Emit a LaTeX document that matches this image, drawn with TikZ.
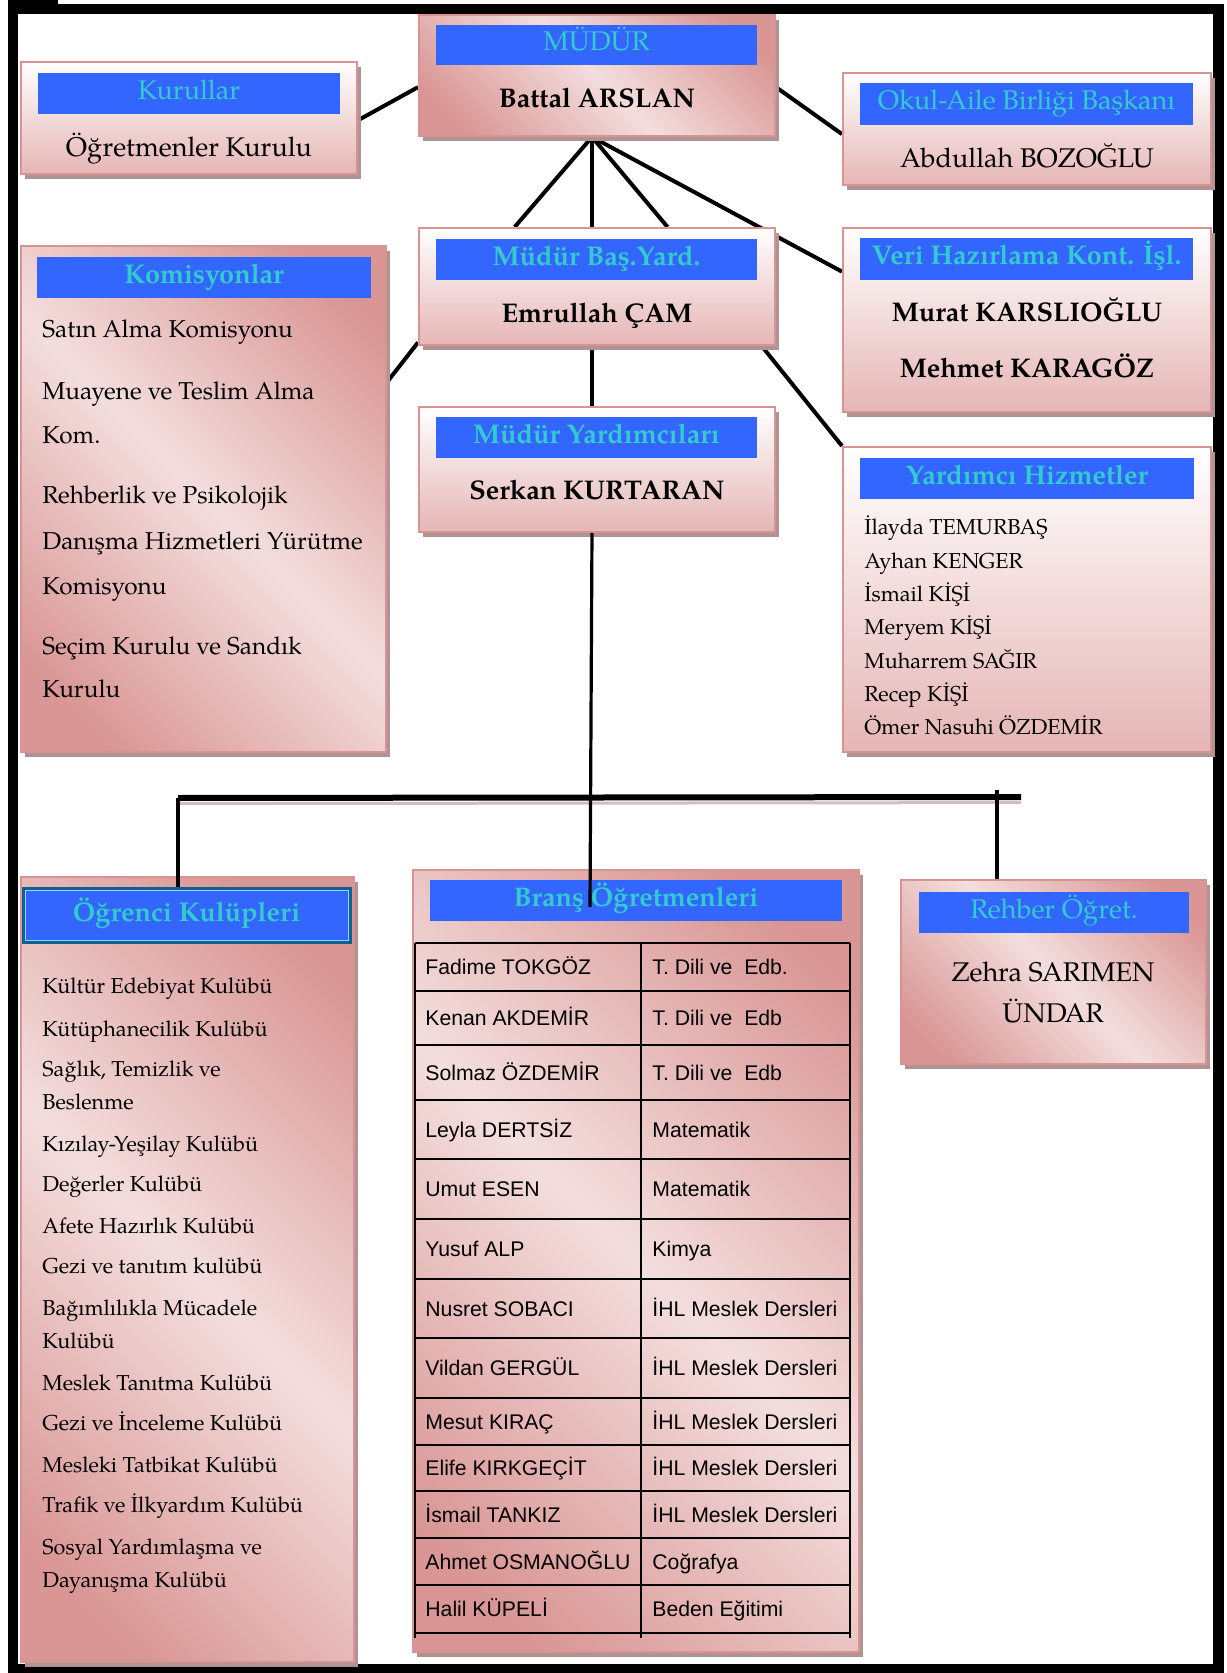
\documentclass[tikz,border=0pt]{standalone}
\usepackage{fontspec}
\setmainfont{TeX Gyre Pagella}
\newfontfamily\tabfont{Liberation Sans}
\usetikzlibrary{calc,shadows}
\definecolor{pkD}{RGB}{217,150,148}
\definecolor{pkL}{RGB}{243,222,221}
\definecolor{pkM}{RGB}{229,182,181}
\definecolor{bordc}{RGB}{216,148,146}
\definecolor{shad}{RGB}{176,148,148}
\definecolor{barblue}{RGB}{51,102,255}
\definecolor{ttl}{RGB}{51,204,204}
\definecolor{ogbord}{RGB}{16,96,150}
\pgfdeclareverticalshading{mirrorsh}{100bp}{color(0bp)=(pkD); color(22bp)=(pkD); color(50bp)=(pkL); color(78bp)=(pkD); color(100bp)=(pkD)}
\pgfdeclarelayer{bg}
\pgfsetlayers{bg,main}
\newcommand\FMain{\fontsize{13.5}{16}\selectfont}
\newcommand\FKom{\fontsize{12.2}{14}\selectfont}
\newcommand\FSm{\fontsize{10.8}{13}\selectfont}
\newcommand\FTab{\tabfont\fontsize{10.6}{12}\selectfont}
\begin{document}
\begin{tikzpicture}[x=0.5pt,y=-0.5pt,
  boxbase/.style={rectangle, draw=bordc, line width=1pt, inner sep=0pt,
    drop shadow={shadow xshift=2pt,shadow yshift=-2.5pt,fill=shad,opacity=1}},
  vbox/.style={boxbase, top color=white, bottom color=pkM},
  mbox/.style={boxbase, shading=mirrorsh, shading angle=-45},
  tbar/.style={rectangle, fill=barblue, inner sep=0pt, text=ttl, font=\FMain,
    text height=0.75em, text depth=0.15em},
  tbarb/.style={tbar, font=\FMain\bfseries},
  conn/.style={line width=2pt},
  dropln/.style={line width=1.6pt},
  nm/.style={anchor=base, font=\FMain},
  nmb/.style={anchor=base, font=\FMain\bfseries},
  kom/.style={anchor=base west, inner sep=0pt, font=\FKom},
  sm/.style={anchor=base west, inner sep=0pt, font=\FSm},
  tabtxt/.style={anchor=base west, inner sep=0pt, font=\FTab},
  tabline/.style={line width=1pt}
]
\useasboundingbox (0,0) rectangle (1226,1673);

% ---------- boxes ----------
\node[vbox, minimum width=168pt, minimum height=56pt] (kurul) at (189,118) {};
\node[mbox, minimum width=178pt, minimum height=60.5pt] (mudur) at (597,75.5) {};
\node[vbox, minimum width=184pt, minimum height=56pt] (okul) at (1027,129) {};
\node[vbox, minimum width=178pt, minimum height=58.5pt] (basyard) at (597,286.5) {};
\node[vbox, minimum width=184pt, minimum height=92pt] (veri) at (1027,320) {};
\node[mbox, minimum width=182.5pt, minimum height=253pt] (komis) at (203.5,499) {};
\node[vbox, minimum width=178pt, minimum height=62.5pt] (yard) at (597,469.5) {};
\node[vbox, minimum width=184pt, minimum height=152.5pt] (yhiz) at (1027,599.5) {};
\node[mbox, minimum width=166.5pt, minimum height=392.5pt] (ogr) at (187.5,1269.5) {};
\node[mbox, minimum width=223pt, minimum height=391pt] (brans) at (636,1261) {};
\node[mbox, minimum width=152.5pt, minimum height=92pt] (rehber) at (1053.5,972) {};

% ---------- title bars ----------
\node[tbar, minimum width=151pt, minimum height=20.5pt] (kurulbar) at (189,93.5) {Kurullar};
\node[tbar, minimum width=160.5pt, minimum height=20pt] (mudurbar) at (596.5,45) {MÜDÜR};
\node[tbar, minimum width=166.5pt, minimum height=21pt] (okulbar) at (1026.5,104) {Okul-Aile Birliği Başkanı};
\node[tbarb, minimum width=160.5pt, minimum height=20.5pt] (basbar) at (596.5,259.5) {Müdür Baş.Yard.};
\node[tbarb, minimum width=166.5pt, minimum height=21pt] (veribar) at (1026.5,259) {Veri Hazırlama Kont. İşl.};
\node[tbarb, minimum width=167pt, minimum height=20.5pt] (komisbar) at (204,277.5) {Komisyonlar};
\node[tbarb, minimum width=160.5pt, minimum height=20.5pt] (yardbar) at (596.5,437.5) {Müdür Yardımcıları};
\node[tbarb, minimum width=167pt, minimum height=20.5pt] (yhizbar) at (1027,478.5) {Yardımcı Hizmetler};
\node[tbarb, draw=ogbord, line width=1.5pt, minimum width=163.5pt, minimum height=27pt] (ogrbar) at (186.5,915) {Öğrenci Kulüpleri};
\draw[white!55!cyan, line width=0.5pt] ($(ogrbar.north west)+(3.5,3.5)$) rectangle ($(ogrbar.south east)+(-3.5,-3.5)$);
\node[tbarb, minimum width=206pt, minimum height=20.5pt] (bransbar) at (636,900.5) {Branş Öğretmenleri};
\node[tbar, minimum width=135pt, minimum height=20.5pt] (rehberbar) at (1054,912.5) {Rehber Öğret.};

% ---------- texts ----------
\node[nm] (kurultx) at (189,157) {Öğretmenler Kurulu};
\node[nmb] (mudurtx) at (597,108) {Battal ARSLAN};
\node[nm] (okultx) at (1027,168) {Abdullah BOZOĞLU};
\node[nmb] (bastx) at (597,323) {Emrullah ÇAM};
\node[nmb] (veritxa) at (1027,322) {Murat KARSLIOĞLU};
\node[nmb] (veritxb) at (1027,378) {Mehmet KARAGÖZ};
\node[nmb] (yardtx) at (597,500) {Serkan KURTARAN};
\node[nm] (rehbertxa) at (1053,981) {Zehra SARIMEN};
\node[nm] (rehbertxb) at (1053,1022) {ÜNDAR};

\foreach \y/\t [count=\i] in {338/{Satın Alma Komisyonu}, 400/{Muayene ve Teslim Alma}, 444/{Kom.}, 504/{Rehberlik ve Psikolojik}, 549/{Danışma Hizmetleri Yürütme}, 594/{Komisyonu}, 654/{Seçim Kurulu ve Sandık}, 697/{Kurulu}}
  \node[kom] (km\i) at (42,\y) {\t};

\foreach \y/\t [count=\i] in {535/{İlayda TEMURBAŞ}, 568/{Ayhan KENGER}, 601/{İsmail KİŞİ}, 634/{Meryem KİŞİ}, 668/{Muharrem SAĞIR}, 701/{Recep KİŞİ}, 734/{Ömer Nasuhi ÖZDEMİR}}
  \node[sm] (yh\i) at (864,\y) {\t};

\foreach \y/\t [count=\i] in {993/{Kültür Edebiyat Kulübü}, 1036/{Kütüphanecilik Kulübü}, 1076/{Sağlık, Temizlik ve}, 1109/{Beslenme}, 1151/{Kızılay-Yeşilay Kulübü}, 1191/{Değerler Kulübü}, 1233/{Afete Hazırlık Kulübü}, 1273/{Gezi ve tanıtım kulübü}, 1315/{Bağımlılıkla Mücadele}, 1348/{Kulübü}, 1390/{Meslek Tanıtma Kulübü}, 1430/{Gezi ve İnceleme Kulübü}, 1472/{Mesleki Tatbikat Kulübü}, 1512/{Trafik ve İlkyardım Kulübü}, 1554/{Sosyal Yardımlaşma ve}, 1587/{Dayanışma Kulübü}}
  \node[sm] (kl\i) at (42,\y) {\t};

% ---------- table ----------
\draw[tabline] (415,943) -- (850,943);
\draw[tabline] (415,943) -- (415,1638);
\draw[tabline] (641,943) -- (641,1638);
\draw[tabline] (850,943) -- (850,1638);
\foreach \t/\b/\n/\s [count=\i] in {
  943/991/{Fadime TOKGÖZ}/{T. Dili ve\ \ Edb.},
  991/1045/{Kenan AKDEMİR}/{T. Dili ve\ \ Edb},
  1045/1100/{Solmaz ÖZDEMİR}/{T. Dili ve\ \ Edb},
  1100/1159/{Leyla DERTSİZ}/{Matematik},
  1159/1219/{Umut ESEN}/{Matematik},
  1219/1279/{Yusuf ALP}/{Kimya},
  1279/1338/{Nusret SOBACI}/{İHL Meslek Dersleri},
  1338/1398/{Vildan GERGÜL}/{İHL Meslek Dersleri},
  1398/1445/{Mesut KIRAÇ}/{İHL Meslek Dersleri},
  1445/1491/{Elife KIRKGEÇİT}/{İHL Meslek Dersleri},
  1491/1538/{İsmail TANKIZ}/{İHL Meslek Dersleri},
  1538/1585/{Ahmet OSMANOĞLU}/{Coğrafya},
  1585/1633/{Halil KÜPELİ}/{Beden Eğitimi}} {
  \draw[tabline] (415,\b) -- (850,\b);
  \node[tabtxt] (tn\i) at (425,{(\t+\b)/2+7.5}) {\n};
  \node[tabtxt] (ts\i) at (652,{(\t+\b)/2+7.5}) {\s};
}

% ---------- connectors over boxes ----------
\coordinate (bransend) at (590,907);
\coordinate (hl) at (178,798);
\coordinate (hr) at (1021,797);
\coordinate (rt) at (997,790);
\draw[shad!60, line width=1.5pt] ([yshift=-2.8pt]hl) -- ([yshift=-2.8pt]hr);
\draw[line width=3pt] (hl) -- (hr);
\draw[dropln] ($(yard.south west)!0.486!(yard.south east)$) -- (bransend);
\draw[dropln] (hl) -- (ogrbar.north -| hl);
\draw[dropln] (rt) -- (rehber.north -| rt);

% ---------- background: frame and connectors behind boxes ----------
\begin{pgfonlayer}{bg}
\fill (8,4) rectangle (1224,14);
\fill (8,0) rectangle (58,14);
\fill (8,4) rectangle (18,1673);
\fill (1213,4) rectangle (1224,1673);
\fill (8,1664) rectangle (1224,1673);
\coordinate (mb) at ($(mudur.south west)!0.486!(mudur.south east)$);
\draw[conn] ($(kurul.north east)!0.52!(kurul.south east)$) -- ($(mudur.north west)!0.595!(mudur.south west)$);
\draw[conn] ($(mudur.north east)!0.595!(mudur.south east)$) -- ($(okul.north west)!0.545!(okul.south west)$);
\draw[conn] (mb) -- ($(basyard.north west)!0.27!(basyard.north east)$);
\draw[conn] (mb) -- ($(basyard.north west)!0.486!(basyard.north east)$);
\draw[conn] (mb) -- ($(basyard.north west)!0.697!(basyard.north east)$);
\draw[conn] (mb) -- ($(veri.north west)!0.24!(veri.south west)$);
\draw[conn] ($(basyard.north west)!0.97!(basyard.south west)$) -- ($(komis.north east)!0.27!(komis.south east)$);
\draw[conn] ($(basyard.south west)!0.96!(basyard.south east)$) -- (yhiz.north west);
\draw[conn] ($(basyard.south west)!0.486!(basyard.south east)$) -- ($(yard.north west)!0.486!(yard.north east)$);
\end{pgfonlayer}
\end{tikzpicture}
\end{document}
